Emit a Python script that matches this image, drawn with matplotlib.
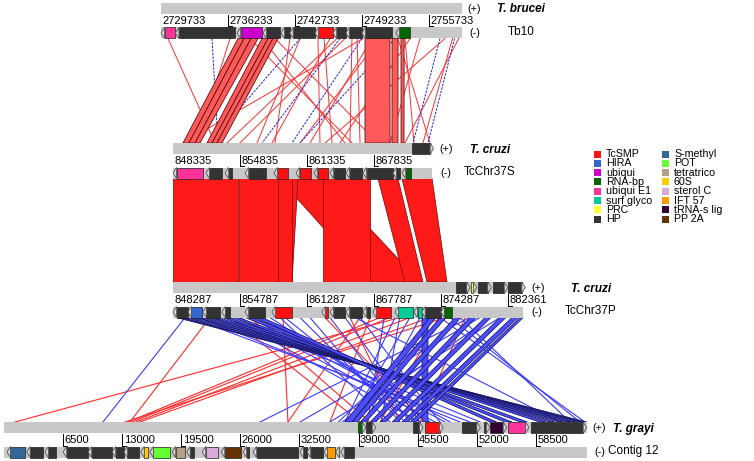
import matplotlib
matplotlib.use('Agg')
import matplotlib.pyplot as plt
from matplotlib.patches import Polygon, Rectangle

plt.rcParams['font.family'] = ['Liberation Sans', 'DejaVu Sans']

# gene classes / legend
classes = ['TcSMP', 'HIRA', 'ubiqui', 'RNA-bp', 'ubiqui E1', 'surf glyco', 'PRC', 'HP',
           'S-methyl', 'POT', 'tetratrico', '60S', 'sterol C', 'IFT 57', 'tRNA-s lig', 'PP 2A']
colours = ['#ff1010', '#3366cc', '#cc00cc', '#006600', '#ff3399', '#00cc99', '#ffff33', '#333333',
           '#336699', '#66ff33', '#b3a184', '#ffcc00', '#d9aad9', '#ff9900', '#330033', '#663300']
col = dict(zip(classes, colours))

# ---- sequences (positions in kb from the start of each shown region) ----
tb10_len = 29.2
tb10_tick_kb = [0, 6.5, 13, 19.5, 26]
tb10_tick_lab = ['2729733', '2736233', '2742733', '2749233', '2755733']
tb10_plus = []
tb10_minus = [(0.0, 1.4, 'ubiqui E1'), (1.4, 7.2, 'HP'), (7.4, 9.8, 'ubiqui'), (9.9, 11.55, 'HP'),
              (11.65, 12.5, 'HP'), (12.5, 14.95, 'HP'), (14.95, 16.7, 'TcSMP'), (16.7, 17.95, 'HP'),
              (17.95, 19.5, 'HP'), (19.5, 22.4, 'HP'), (22.8, 24.2, 'RNA-bp')]

tcs_len = 25.15
tcs_tick_kb = [0, 6.5, 13, 19.5]
tcs_tick_lab = ['848335', '854835', '861335', '867835']
tcs_plus = [(23.2, 25.3, 'HP')]
tcs_minus = [(0.0, 2.9, 'ubiqui E1'), (3.2, 4.75, 'HP'), (5.05, 5.7, 'HP'), (7.0, 9.0, 'HP'),
             (9.8, 11.15, 'TcSMP'), (11.95, 13.4, 'TcSMP'), (13.7, 15.05, 'TcSMP'), (15.25, 16.7, 'HP'),
             (16.8, 18.35, 'HP'), (18.45, 21.35, 'HP'), (21.35, 22.05, 'HP'), (22.25, 23.1, 'RNA-bp')]

tcp_len = 34.0
tcp_tick_kb = [0, 6.5, 13, 19.5, 26, 32.5]
tcp_tick_lab = ['848287', '854787', '861287', '867787', '874287', '882361']
tcp_plus = [(27.5, 28.85, 'HP'), (28.9, 29.5, 'PRC'), (29.6, 30.9, 'HP'), (31.05, 32.5, 'HP'),
            (32.5, 34.2, 'HP')]
tcp_minus = [(0.0, 1.45, 'HP'), (1.45, 2.8, 'HIRA'), (2.9, 4.55, 'HP'), (4.75, 5.55, 'HP'),
             (7.0, 8.95, 'HP'), (9.6, 11.55, 'TcSMP'), (14.45, 15.05, 'TcSMP'), (15.25, 16.7, 'HP'),
             (16.8, 18.35, 'HP'), (18.45, 19.1, 'HP'), (19.4, 21.15, 'TcSMP'), (21.55, 23.3, 'surf glyco'),
             (23.4, 24.15, 'surf glyco'), (24.15, 26.0, 'HP'), (26.0, 27.1, 'RNA-bp')]

tgr_len = 64.1
tgr_tick_kb = [6.5, 13, 19.5, 26, 32.5, 39, 45.5, 52, 58.5]
tgr_tick_lab = ['6500', '13000', '19500', '26000', '32500', '39000', '45500', '52000', '58500']
tgr_plus = [(38.9, 39.8, 'RNA-bp'), (39.8, 40.9, 'HP'), (45.0, 46.1, 'HP'), (46.3, 48.3, 'TcSMP'),
            (50.4, 52.4, 'HP'), (52.8, 53.45, 'HP'), (53.45, 55.3, 'tRNA-s lig'), (55.45, 57.75, 'ubiqui E1'),
            (58.0, 64.1, 'HP')]
tgr_minus = [(0.33, 2.3, 'S-methyl'), (2.5, 4.3, 'HP'), (4.5, 5.7, 'HP'), (6.5, 9.25, 'HP'),
             (9.25, 11.9, 'HP'), (11.9, 13.2, 'HP'), (13.2, 14.85, 'HP'), (15.05, 15.85, '60S'),
             (16.05, 18.25, 'POT'), (18.5, 19.9, 'tetratrico'), (20.1, 20.9, 'HP'), (21.8, 23.55, 'sterol C'),
             (23.9, 26.05, 'PP 2A'), (26.3, 26.95, 'HP'), (27.4, 32.35, 'HP'), (32.55, 33.35, 'HP'),
             (33.35, 35.1, 'HP'), (35.2, 36.4, 'IFT 57'), (36.5, 36.85, 'HP'), (37.05, 38.5, 'HP')]

# ---- matches (upper kb start, end, lower kb start, end) ----
# Tb10 vs TcChr37S
m1_bands = [(7.48, 8.06, 0.97, 1.55), (8.06, 8.74, 1.55, 2.14), (8.74, 9.42, 2.14, 2.62),
            (9.81, 10.39, 3.30, 3.79), (10.39, 10.87, 3.79, 4.27), (10.87, 11.36, 4.27, 4.76),
            (19.81, 22.23, 18.64, 21.07), (22.43, 23.01, 21.26, 21.84), (23.3, 23.6, 22.14, 22.43)]
m1_red = [(0.68, 4.08), (19.61, 0.97), (17.09, 5.24), (17.86, 6.50), (13.50, 8.16), (15.24, 14.27),
          (15.83, 15.44), (18.54, 17.18), (19.03, 18.16), (12.52, 9.90), (8.64, 17.38), (9.81, 16.70),
          (11.07, 19.90), (21.26, 12.33), (20.49, 13.30), (23.0, 24.95), (23.69, 23.40), (25.15, 21.07),
          (27.57, 14.76), (28.3, 24.27), (28.9, 22.52), (6.70, 2.33), (16.41, 9.61), (24.17, 16.21)]
m1_blue = [(4.95, 4.37), (13.5, 3.59), (17.38, 8.64), (19.51, 11.55), (27.09, 23.30), (28.5, 24.76),
           (22.72, 12.33)]

# TcChr37S vs TcChr37P
m2_bands = [(10.29, 14.56, 19.32, 23.98), (11.36, 12.14, 10.19, 11.55), (10.19, 11.55, 10.19, 11.55),
            (0.0, 6.31, 0.0, 6.31), (6.41, 10.19, 6.41, 10.19), (14.56, 19.13, 14.56, 19.13),
            (19.90, 21.84, 22.52, 24.27), (22.23, 25.15, 24.66, 26.60)]

# TcChr37P vs T. grayi contig 12
m3_bands = [(24.17, 24.76, 45.98, 46.64),
            (0.29, 0.68, 63.7, 64.1), (0.78, 1.26, 63.2, 63.65), (1.65, 2.14, 62.5, 63.0),
            (2.33, 2.82, 61.8, 62.3), (3.11, 3.59, 61.0, 61.5), (3.79, 4.37, 60.0, 60.6),
            (4.76, 5.34, 58.9, 59.6), (5.73, 6.31, 56.8, 57.6), (6.99, 7.67, 55.1, 55.9),
            (7.96, 8.64, 53.5, 54.2),
            (24.95, 25.53, 37.5, 38.3), (25.92, 26.50, 38.3, 38.9), (27.38, 27.96, 39.2, 39.8),
            (28.83, 29.42, 40.3, 40.9), (30.29, 30.87, 41.4, 42.0), (31.75, 32.33, 42.7, 43.3),
            (32.91, 33.50, 43.8, 44.4), (33.69, 34.0, 44.7, 45.3)]
m3_blue = [(1.17, 10.89), (1.65, 51.27), (2.62, 50.17), (5.05, 52.37), (8.45, 49.06), (9.42, 46.86),
           (10.87, 45.21), (12.33, 44.11), (15.24, 44.66), (16.70, 45.76), (18.16, 47.96), (25.92, 63.9),
           (26.89, 63.37), (27.86, 62.27), (17.67, 61.17), (28.83, 28.16), (29.81, 32.56), (31.75, 35.86),
           (21.55, 37.51), (23.0, 38.06), (23.98, 39.71), (5.53, 45.76), (6.50, 47.41), (7.48, 48.51),
           (10.39, 42.46), (13.30, 43.56), (20.5, 40.0), (22.0, 41.5), (26.5, 36.8), (30.8, 37.2)]
m3_red = [(22.04, 1.21), (20.10, 13.64), (21.07, 14.08), (23.01, 14.52), (24.95, 14.96), (26.41, 13.31),
          (10.68, 31.24), (18.16, 31.24), (5.53, 39.16), (7.48, 40.26), (25.92, 41.36), (19.13, 35.86),
          (14.76, 46.31), (28.35, 45.76), (3.59, 13.86), (17.18, 43.56)]

# ---- layout (pixels) ----
lay = {'tb10': dict(x0=161, ppk=10.3, y=3), 'tcs': dict(x0=173, ppk=10.3, y=143),
       'tcp': dict(x0=173, ppk=10.3, y=282), 'tgr': dict(x0=4, ppk=9.09, y=422)}
H = 11
MOFF = 24.5
TIP = 3.5
bar_grey = '#c8c8c8'

fig = plt.figure(figsize=(7.54, 4.61), dpi=100)
ax = fig.add_axes([0, 0, 1, 1])
ax.set_xlim(0, 754)
ax.set_ylim(461, 0)
ax.axis('off')


def X(L, kb):
    return L['x0'] + kb * L['ppk']


def link(up, lo, t0, t1, b0, b1, fc, ec, lw=0.5, z=1):
    yt = up['y'] + MOFF + H
    yb = lo['y']
    pts = [(X(up, t0), yt), (X(up, t1), yt), (X(lo, b1), yb), (X(lo, b0), yb)]
    ax.add_patch(Polygon(pts, closed=True, fc=fc, ec=ec, lw=lw, zorder=z))


def line(up, lo, t, b, c, lw=0.8, ls='-', z=1):
    ax.plot([X(up, t), X(lo, b)], [up['y'] + MOFF + H, lo['y']], color=c, lw=lw, ls=ls, zorder=z)


def gene(L, g, strand, ytop):
    xa, xb = X(L, g[0]), X(L, g[1])
    c = col[g[2]]
    if strand < 0:
        ax.add_patch(Rectangle((xa + TIP, ytop), xb - xa - TIP, H, fc=c, ec='#222222', lw=0.5, zorder=4))
        tri = [(xa, ytop + H / 2), (xa + TIP, ytop), (xa + TIP, ytop + H)]
    else:
        ax.add_patch(Rectangle((xa, ytop), xb - xa - TIP, H, fc=c, ec='#222222', lw=0.5, zorder=4))
        tri = [(xb, ytop + H / 2), (xb - TIP, ytop), (xb - TIP, ytop + H)]
    ax.add_patch(Polygon(tri, closed=True, fc='#d8d8d8', ec='#555555', lw=0.6, zorder=4))


def track(L, length, plus, minus, tick_kb, tick_lab, name1, name2, nx, plus_end=None):
    y = L['y']
    x0 = X(L, 0)
    x1 = X(L, length)
    ax.add_patch(Rectangle((x0, y), x1 - x0, H, fc=bar_grey, ec='none', zorder=3))
    ax.add_patch(Rectangle((x0, y + MOFF), x1 - x0, H, fc=bar_grey, ec='none', zorder=3))
    for g in plus:
        gene(L, g, 1, y)
    for g in minus:
        gene(L, g, -1, y + MOFF)
    ytop = y + H + 1
    ybot = y + MOFF - 1
    for k, lab in zip(tick_kb, tick_lab):
        xt = X(L, k)
        if k > 0:
            ax.plot([xt, xt], [ytop, ybot], color='k', lw=0.7, zorder=3)
            ax.plot([xt, xt + 4], [ybot, ybot], color='k', lw=0.7, zorder=3)
        ax.text(xt + 1.5, (ytop + ybot) / 2 + 0.5, lab, fontsize=8, ha='left', va='center', zorder=5)
    xe = max(x1, plus_end if plus_end else x1)
    ax.text(xe + 6, y + H / 2, '(+)', fontsize=7.8, ha='left', va='center')
    ax.text(x1 + 8, y + MOFF + H / 2, '(-)', fontsize=7.8, ha='left', va='center')
    ax.text(nx, y + H / 2 + 1, name1, fontsize=8.5, fontweight='bold', fontstyle='italic',
            ha='center', va='center')
    ax.text(nx, y + MOFF - 5 + H / 2 + 4, name2, fontsize=8.5, ha='center', va='center')


A, B, C, D = lay['tb10'], lay['tcs'], lay['tcp'], lay['tgr']

# Tb10 / TcChr37S matches
for t, b in m1_red:
    line(A, B, t, b, '#ff3030', 0.7)
for t, b in m1_blue:
    line(A, B, t, b, '#2222dd', 0.7, ls=(0, (2.5, 1.2)))
for t0, t1, b0, b1 in m1_bands:
    link(A, B, t0, t1, b0, b1, '#ff5a5a', '#5a1010', 0.6, z=2)

# TcChr37S / TcChr37P matches
for t0, t1, b0, b1 in m2_bands:
    link(B, C, t0, t1, b0, b1, '#ff1a1a', '#7a0000', 0.5, z=2)

# TcChr37P / T. grayi matches
for t, b in m3_red:
    line(C, D, t, b, '#ff2a2a', 0.8)
for t, b in m3_blue:
    line(C, D, t, b, '#3a3aff', 0.8)
for t0, t1, b0, b1 in m3_bands:
    link(C, D, t0, t1, b0, b1, '#4d4dff', '#101050', 0.5, z=2)

track(A, tb10_len, tb10_plus, tb10_minus, tb10_tick_kb, tb10_tick_lab, 'T. brucei', 'Tb10', 521)
track(B, tcs_len, tcs_plus, tcs_minus, tcs_tick_kb, tcs_tick_lab, 'T. cruzi', 'TcChr37S', 490,
      plus_end=X(B, 25.3))
track(C, tcp_len, tcp_plus, tcp_minus, tcp_tick_kb, tcp_tick_lab, 'T. cruzi', 'TcChr37P', 591,
      plus_end=X(C, 34.2))
track(D, tgr_len, tgr_plus, tgr_minus, tgr_tick_kb, tgr_tick_lab, 'T. grayi', 'Contig 12', 633)

# legend
for i, (name, c) in enumerate(zip(classes, colours)):
    cx = 594 if i < 8 else 662
    cy = 154 + 9.3 * (i % 8)
    ax.add_patch(Rectangle((cx, cy - 3.5), 7, 7, fc=c, ec='none'))
    ax.text(cx + 12, cy, name, fontsize=7.7, ha='left', va='center')

fig.savefig('out.png', dpi=100)
